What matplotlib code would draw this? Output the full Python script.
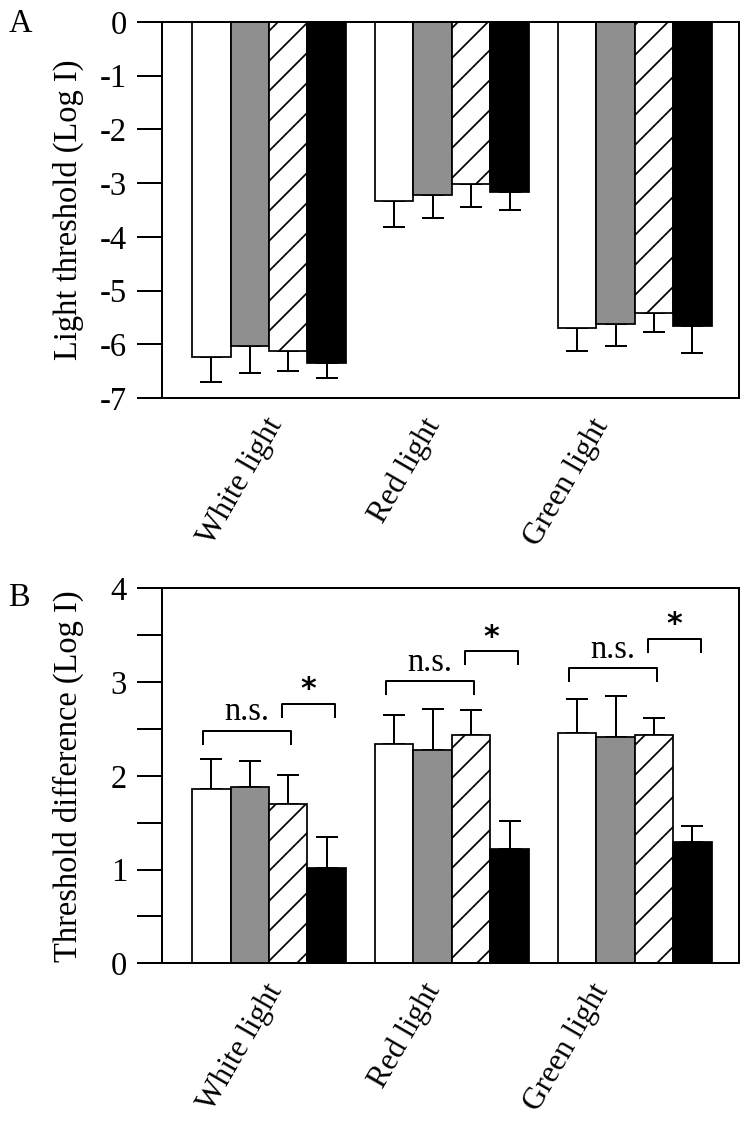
import numpy as np
import matplotlib
matplotlib.use("Agg")
import matplotlib.pyplot as plt
from matplotlib.transforms import ScaledTranslation

plt.rcParams['font.family'] = ['Liberation Serif', 'DejaVu Serif']
plt.rcParams['hatch.linewidth'] = 0.7
plt.rcParams['hatch.color'] = 'black'

categories = ['White light', 'Red light', 'Green light']

# panel A: light threshold (Log I)
thr_white = [-6.23, -3.33, -5.69]
thr_gray = [-6.03, -3.21, -5.62]
thr_hatch = [-6.12, -3.01, -5.42]
thr_black = [-6.34, -3.17, -5.66]
thr_white_err = [0.46, 0.48, 0.43]
thr_gray_err = [0.50, 0.43, 0.40]
thr_hatch_err = [0.37, 0.43, 0.34]
thr_black_err = [0.28, 0.32, 0.49]

# panel B: threshold difference (Log I)
diff_white = [1.86, 2.34, 2.46]
diff_gray = [1.88, 2.28, 2.41]
diff_hatch = [1.70, 2.44, 2.43]
diff_black = [1.02, 1.22, 1.29]
diff_white_err = [0.32, 0.31, 0.36]
diff_gray_err = [0.28, 0.43, 0.44]
diff_hatch_err = [0.31, 0.26, 0.19]
diff_black_err = [0.33, 0.30, 0.17]

# significance brackets in panel B (top heights)
ns_top = [2.48, 3.01, 3.15]
star_top = [2.77, 3.33, 3.46]

styles = [
    dict(color='white', hatch=None),
    dict(color='#8f8f8f', hatch=None),
    dict(color='white', hatch='//'),
    dict(color='black', hatch=None),
]

W, H, DPI = 748, 1128, 180
FS = 13
fig = plt.figure(figsize=(W / DPI, H / DPI), dpi=DPI)
axA = fig.add_axes([0.2166, 0.647, 0.7714, 0.3335])
axB = fig.add_axes([0.2166, 0.146, 0.7714, 0.3325])

x = np.arange(len(categories))
bw = 0.21
offsets = np.array([-1.5, -0.5, 0.5, 1.5]) * bw
label_shift = [3, -7, -13]  # points, nudges the rotated labels sideways


def draw_panel(ax, series, errs, negative):
    for k, (vals, err) in enumerate(zip(series, errs)):
        st = styles[k]
        ax.bar(x + offsets[k], vals, bw, color=st['color'], hatch=st['hatch'],
               edgecolor='black', linewidth=0.7, zorder=2)
        err = np.array(err)
        zeros = np.zeros_like(err)
        yerr = [err, zeros] if negative else [zeros, err]
        ax.errorbar(x + offsets[k], vals, yerr=yerr, fmt='none', ecolor='black',
                    elinewidth=0.8, capsize=4.3, capthick=0.8, zorder=1)
    ax.set_xlim(-0.585, 2.57)
    ax.set_xticks(x)
    ax.set_xticklabels(categories, rotation=60, ha='right', va='center',
                       rotation_mode='anchor', fontsize=12.5)
    ax.tick_params(axis='x', length=0, pad=9)
    for lab, dx in zip(ax.get_xticklabels(), label_shift):
        lab.set_transform(lab.get_transform() + ScaledTranslation(dx / 72, 0, fig.dpi_scale_trans))
    ax.tick_params(axis='y', direction='out', length=10, width=0.8, labelsize=FS, pad=4)
    ax.yaxis.set_label_coords(-0.136, 0.5)
    for s in ax.spines.values():
        s.set_linewidth(0.8)


draw_panel(axA, [thr_white, thr_gray, thr_hatch, thr_black],
           [thr_white_err, thr_gray_err, thr_hatch_err, thr_black_err], True)
axA.set_ylim(-7, 0)
axA.set_yticks(np.arange(-7, 1, 1))
axA.set_yticklabels([str(v) for v in range(-7, 1)])
axA.set_ylabel('Light threshold (Log I)', fontsize=FS)

draw_panel(axB, [diff_white, diff_gray, diff_hatch, diff_black],
           [diff_white_err, diff_gray_err, diff_hatch_err, diff_black_err], False)
axB.set_ylim(0, 4)
ticks = np.arange(0, 4.01, 0.5)
axB.set_yticks(ticks)
axB.set_yticklabels([str(int(t)) if t == int(t) else '' for t in ticks])
axB.set_ylabel('Threshold difference (Log I)', fontsize=FS)

leg = 0.14
for i in range(len(categories)):
    l, r = x[i] - 0.36, x[i] + 0.12
    axB.plot([l, l, r, r], [ns_top[i] - leg, ns_top[i], ns_top[i], ns_top[i] - leg],
             color='black', lw=0.8)
    axB.text((l + r) / 2, ns_top[i] + 0.11, 'n.s.', ha='center', va='baseline', fontsize=FS)
    l, r = x[i] + 0.07, x[i] + 0.36
    axB.plot([l, l, r, r], [star_top[i] - leg, star_top[i], star_top[i], star_top[i] - leg],
             color='black', lw=0.8)
    axB.text((l + r) / 2, star_top[i] + 0.15, '*', ha='center', va='center',
             fontsize=12, fontweight='bold', family='DejaVu Sans')

fig.text(0.011, 0.979, 'A', fontsize=FS, ha='left', va='center')
fig.text(0.011, 0.470, 'B', fontsize=FS, ha='left', va='center')

fig.savefig('out.png', dpi=DPI)
